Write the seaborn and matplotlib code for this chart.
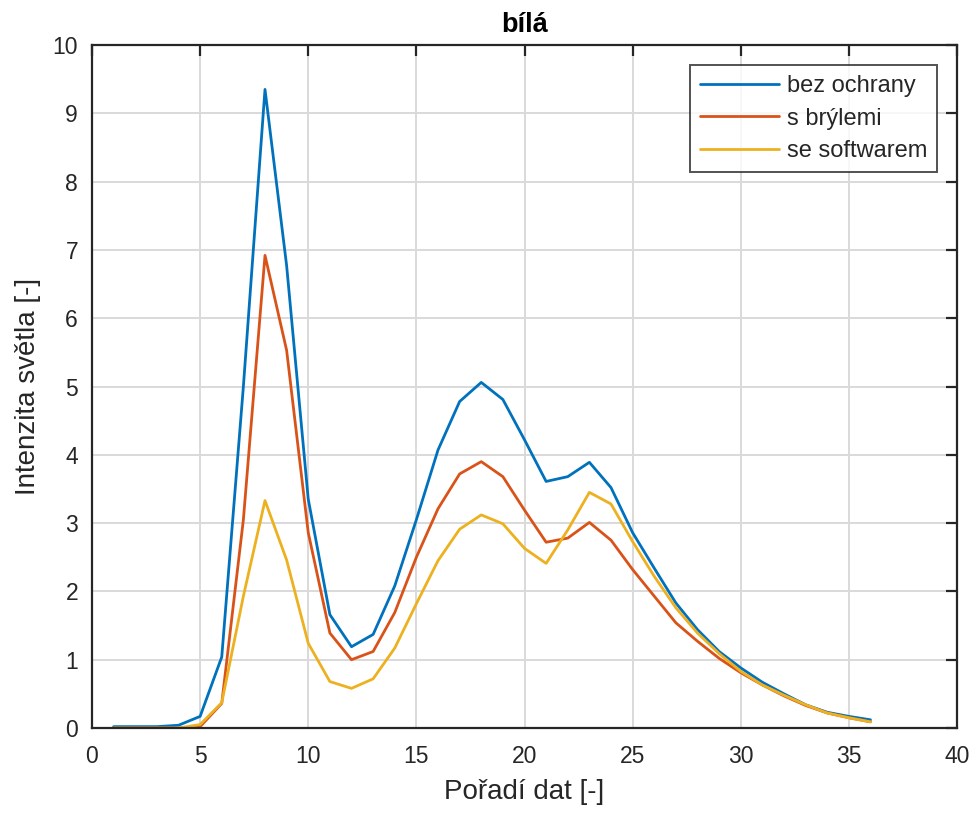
import numpy as np
import pandas as pd
import matplotlib
matplotlib.use("Agg")
import matplotlib.pyplot as plt
import seaborn as sns

x_vals = list(range(1, 37))
bez_ochrany = [0.02, 0.02, 0.02, 0.04, 0.17, 1.04, 5.0, 9.35, 6.77, 3.35,
               1.66, 1.19, 1.37, 2.08, 3.05, 4.07, 4.78, 5.06, 4.81, 4.22,
               3.61, 3.68, 3.89, 3.52, 2.86, 2.34, 1.83, 1.44, 1.12, 0.88,
               0.67, 0.50, 0.34, 0.23, 0.17, 0.12]
s_brylemi = [0.0, 0.0, 0.0, 0.0, 0.02, 0.36, 3.05, 6.92, 5.53, 2.86,
             1.39, 1.00, 1.12, 1.69, 2.50, 3.21, 3.72, 3.90, 3.68, 3.19,
             2.72, 2.78, 3.01, 2.75, 2.32, 1.93, 1.54, 1.27, 1.02, 0.81,
             0.63, 0.47, 0.33, 0.22, 0.15, 0.09]
se_softwarem = [0.0, 0.0, 0.0, 0.0, 0.05, 0.37, 1.93, 3.33, 2.46, 1.24,
                0.68, 0.58, 0.72, 1.17, 1.82, 2.45, 2.91, 3.12, 2.99, 2.63,
                2.41, 2.90, 3.45, 3.28, 2.73, 2.22, 1.76, 1.39, 1.09, 0.83,
                0.63, 0.48, 0.34, 0.22, 0.15, 0.09]
series_names = ["bez ochrany", "s brýlemi", "se softwarem"]
colors = ["#0072BD", "#D95319", "#EDB120"]
title = "bílá"
xlabel = "Pořadí dat [-]"
ylabel = "Intenzita světla [-]"

df = pd.concat([
    pd.DataFrame({"x": x_vals, "y": vals, "serie": name})
    for name, vals in zip(series_names, [bez_ochrany, s_brylemi, se_softwarem])
], ignore_index=True)

sns.set_theme(style="white")
plt.rcParams["font.family"] = ["Liberation Sans", "DejaVu Sans"]

fig = plt.figure(figsize=(9.77, 8.18), dpi=100)
ax = fig.add_axes([92/977, 1 - 728/818, (957-92)/977, (728-45)/818])

sns.lineplot(data=df, x="x", y="y", hue="serie", palette=colors,
             hue_order=series_names, linewidth=2.0, ax=ax, legend=True)

ax.set_xlim(0, 40)
ax.set_ylim(0, 10)
ax.set_xticks(range(0, 41, 5))
ax.set_yticks(range(0, 11, 1))
ax.grid(True, color="#d9d9d9", linewidth=1.4)
ax.set_axisbelow(True)
for s in ax.spines.values():
    s.set_visible(True)
    s.set_color("#262626")
    s.set_linewidth(1.6)
ax.tick_params(direction="in", length=8, width=1.6, color="#262626",
               top=True, right=True, labelsize=16.5, labelcolor="#262626")
ax.tick_params(axis="x", pad=12)
ax.tick_params(axis="y", pad=10)
ax.set_xlabel(xlabel, fontsize=20, color="#262626", labelpad=8)
ax.set_ylabel(ylabel, fontsize=20, color="#262626", labelpad=8)
ax.set_title(title, fontsize=19.5, fontweight="bold", color="black", pad=9)

leg = ax.legend(loc="upper right", bbox_to_anchor=(0.977, 0.970), fontsize=17,
                frameon=True, fancybox=False, edgecolor="#262626",
                handlelength=3.35, handletextpad=0.35, borderpad=0.4,
                labelspacing=0.45, borderaxespad=0)
leg.get_frame().set_linewidth(1.4)
leg.set_title(None)

fig.savefig("out.png", dpi=100, facecolor="white")
